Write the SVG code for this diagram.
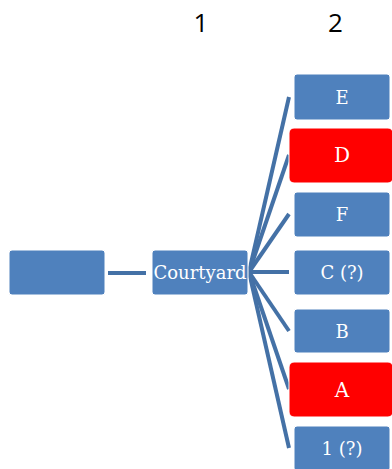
<svg xmlns="http://www.w3.org/2000/svg" width="392" height="469" viewBox="0 0 392 469">
<style>
.box{fill:#4f81bd;stroke:#ffffff;stroke-width:1}
.red{fill:#ff0000;stroke:#ffffff;stroke-width:1}
.lbl{font-family:"DejaVu Serif","Liberation Serif",serif;font-size:18px;fill:#ffffff;text-anchor:middle}
.big{font-size:20px}
.hdr{font-family:"Open Sans","Liberation Sans",sans-serif;font-size:26px;fill:#000000;text-anchor:middle}
.conn line{stroke:#4471a6;stroke-width:4;stroke-linecap:butt}
</style>
<rect width="392" height="469" fill="#ffffff"/>
<text class="hdr" x="201" y="32">1</text>
<text class="hdr" x="335.5" y="32">2</text>
<g id="connectors" class="conn">
<line x1="108" y1="273" x2="146" y2="273"/>
<line x1="249" y1="272" x2="289" y2="97"/>
<line x1="249" y1="272" x2="289" y2="155"/>
<line x1="249" y1="272" x2="289" y2="214"/>
<line x1="249" y1="272" x2="289" y2="272"/>
<line x1="249" y1="272" x2="289" y2="331"/>
<line x1="249" y1="272" x2="289" y2="389"/>
<line x1="249" y1="272" x2="289" y2="448"/>
</g>
<g id="root"><rect class="box" x="9" y="250" width="96" height="45" rx="3"/></g>
<g id="courtyard"><rect class="box" x="152" y="250" width="96" height="45" rx="3"/><text class="lbl" x="200" y="279" textLength="93" lengthAdjust="spacingAndGlyphs">Courtyard</text></g>
<g id="E"><rect class="box" x="294" y="74" width="96" height="46" rx="3"/><text class="lbl" x="342" y="104">E</text></g>
<g id="D"><rect class="red" x="289" y="128" width="104" height="55" rx="5"/><text class="lbl big" x="342" y="162">D</text></g>
<g id="F"><rect class="box" x="294" y="192" width="96" height="45" rx="3"/><text class="lbl" x="342" y="221">F</text></g>
<g id="C"><rect class="box" x="294" y="250" width="96" height="45" rx="3"/><text class="lbl" x="342" y="279">C (?)</text></g>
<g id="B"><rect class="box" x="294" y="309" width="96" height="44" rx="3"/><text class="lbl" x="342" y="338">B</text></g>
<g id="A"><rect class="red" x="289" y="362" width="104" height="55" rx="5"/><text class="lbl big" x="342" y="397">A</text></g>
<g id="n1"><rect class="box" x="294" y="426" width="96" height="45" rx="3"/><text class="lbl" x="342" y="455">1 (?)</text></g>
</svg>
